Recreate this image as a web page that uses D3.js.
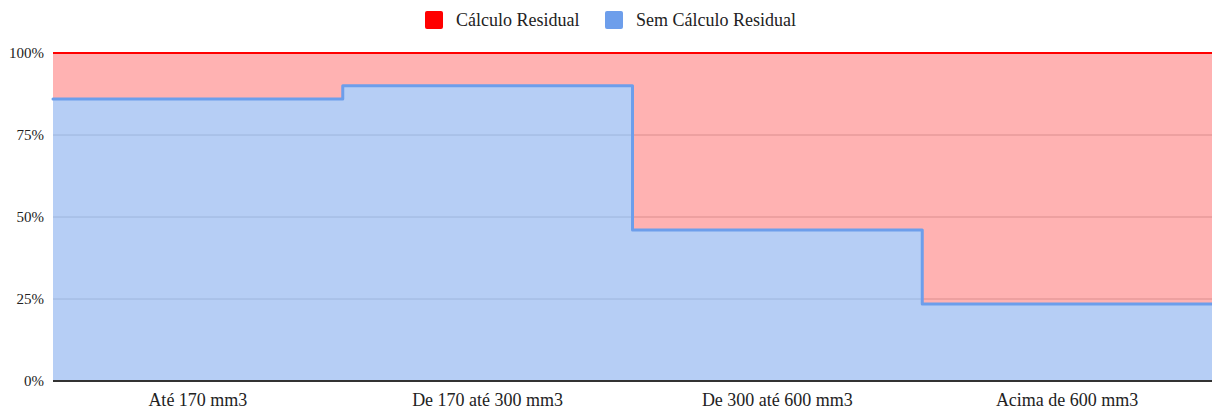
<!DOCTYPE html>
<html><head><meta charset="utf-8">
<script src="https://cdn.jsdelivr.net/npm/d3@7"></script>
<style>body{margin:0;background:#fff}svg{display:block}</style>
</head><body><svg id="c" width="1212" height="410"></svg>
<script>
const categories = ["Até 170 mm3", "De 170 até 300 mm3", "De 300 até 600 mm3", "Acima de 600 mm3"];
const semCalculo = [86, 90, 46, 23.5];
const calculo = [14, 10, 54, 76.5];
const seriesNames = ["Cálculo Residual", "Sem Cálculo Residual"];
const yTicks = [0, 25, 50, 75, 100];

const W = 1212, H = 410;
const m = {l: 53, r: 0, t: 53, b: 29};
const svg = d3.select("#c");
const font = "'Liberation Serif','Times New Roman',serif";

const x = d3.scaleBand().domain(categories).range([m.l, W - m.r]).padding(0);
const y = d3.scaleLinear().domain([0, 100]).range([H - m.b, m.t]);

// grid
svg.append("g").selectAll("line").data(yTicks.filter(d => d > 0)).join("line")
  .attr("x1", m.l).attr("x2", W - m.r).attr("y1", d => y(d)).attr("y2", d => y(d))
  .attr("stroke", "#cccccc").attr("stroke-width", 1);

// stacked points: start of each band plus end of last band
const pts = categories.map((c, i) => ({x: x(c), blue: semCalculo[i], red: calculo[i]}));
pts.push({x: x.range()[1], blue: semCalculo[semCalculo.length - 1], red: calculo[calculo.length - 1]});

const areaBlue = d3.area().curve(d3.curveStepAfter).x(d => d.x).y0(y(0)).y1(d => y(d.blue));
const areaRed = d3.area().curve(d3.curveStepAfter).x(d => d.x).y0(d => y(d.blue)).y1(d => y(d.blue + d.red));
const lineBlue = d3.line().curve(d3.curveStepAfter).x(d => d.x).y(d => y(d.blue));
const lineRed = d3.line().curve(d3.curveStepAfter).x(d => d.x).y(d => y(d.blue + d.red));

svg.append("path").datum(pts).attr("d", areaRed).attr("fill", "#ff0000").attr("fill-opacity", 0.3);
svg.append("path").datum(pts).attr("d", areaBlue).attr("fill", "#6d9eeb").attr("fill-opacity", 0.5);
svg.append("path").datum(pts).attr("d", lineRed).attr("fill", "none").attr("stroke", "#ff0000").attr("stroke-width", 2);
svg.append("path").datum(pts).attr("d", lineBlue).attr("fill", "none").attr("stroke", "#6d9eeb")
  .attr("stroke-width", 3).attr("stroke-linejoin", "round").attr("stroke-linecap", "round");

// baseline
svg.append("line").attr("x1", m.l).attr("x2", W - m.r).attr("y1", y(0)).attr("y2", y(0))
  .attr("stroke", "#333333").attr("stroke-width", 2);

// y labels
svg.append("g").selectAll("text").data(yTicks).join("text")
  .attr("x", m.l - 9).attr("y", d => y(d)).attr("dy", "0.35em").attr("text-anchor", "end")
  .attr("font-family", font).attr("font-size", 15).attr("fill", "#222").text(d => d + "%");

// x labels
svg.append("g").selectAll("text").data(categories).join("text")
  .attr("x", d => x(d) + x.bandwidth() / 2).attr("y", H - 4).attr("text-anchor", "middle")
  .attr("font-family", font).attr("font-size", 18).attr("fill", "#222").text(d => d);

// legend
const legColors = ["#ff0000", "#6d9eeb"];
const legX = [425, 605];
const lg = svg.append("g");
seriesNames.forEach((n, i) => {
  lg.append("rect").attr("x", legX[i]).attr("y", 11).attr("width", 18).attr("height", 18).attr("rx", 2)
    .attr("fill", legColors[i]);
  lg.append("text").attr("x", legX[i] + 31).attr("y", 20).attr("dy", "0.35em")
    .attr("font-family", font).attr("font-size", 18).attr("fill", "#222").text(n);
});
</script></body></html>
